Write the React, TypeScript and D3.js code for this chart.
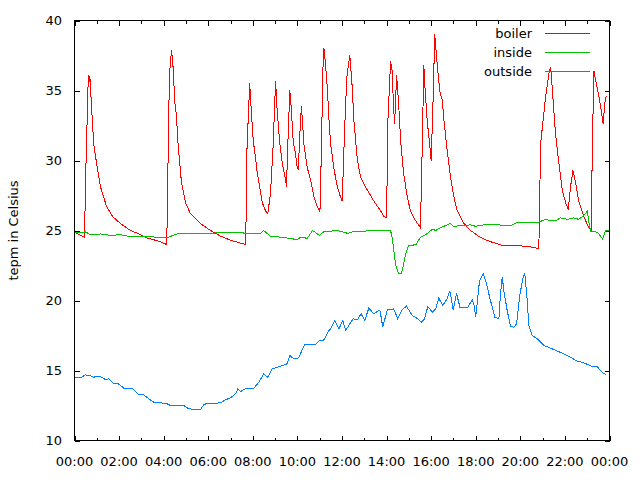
import * as d3 from 'd3'

// time in hours since midnight, temperature in °C
const boilerHours = [0.0, 0.45, 0.5, 0.55, 0.62, 0.66, 0.69, 0.78, 0.86, 0.99, 1.17, 1.44, 1.71, 2.06, 2.51, 2.83, 3.19, 3.64, 3.86, 4.13, 4.16, 4.19, 4.22, 4.26, 4.35, 4.4, 4.44, 4.49, 4.58, 4.62, 4.71, 4.8, 4.98, 5.2, 5.65, 6.1, 6.55, 7.0, 7.45, 7.67, 7.7, 7.74, 7.86, 7.93, 8.02, 8.12, 8.2, 8.31, 8.42, 8.57, 8.67, 8.79, 8.91, 8.97, 9.02, 9.09, 9.21, 9.32, 9.47, 9.51, 9.57, 9.66, 9.72, 9.81, 9.91, 9.99, 10.04, 10.11, 10.18, 10.29, 10.44, 10.59, 10.74, 10.89, 11.01, 11.08, 11.14, 11.19, 11.26, 11.34, 11.41, 11.49, 11.63, 11.79, 11.93, 12.01, 12.08, 12.16, 12.23, 12.35, 12.46, 12.53, 12.68, 12.83, 13.13, 13.43, 13.73, 13.88, 14.0, 14.06, 14.18, 14.25, 14.3, 14.36, 14.45, 14.55, 14.63, 14.77, 14.93, 15.07, 15.3, 15.52, 15.6, 15.67, 15.72, 15.82, 15.94, 16.0, 16.09, 16.16, 16.27, 16.39, 16.5, 16.57, 16.72, 16.87, 17.02, 17.17, 17.47, 17.77, 18.21, 18.66, 19.26, 20.01, 20.61, 20.83, 20.91, 21.13, 21.28, 21.36, 21.43, 21.58, 21.73, 21.88, 22.03, 22.15, 22.25, 22.36, 22.48, 22.62, 22.85, 23.07, 23.18, 23.23, 23.3, 23.45, 23.6, 23.72, 23.78, 23.85]
const boilerTemps = [24.9, 24.5, 28.8, 31.8, 36.1, 35.6, 36.0, 33.4, 31.2, 29.8, 28.1, 26.7, 26.0, 25.5, 25.0, 24.8, 24.5, 24.3, 24.2, 24.0, 25.7, 29.2, 32.6, 36.1, 37.9, 37.1, 36.3, 34.3, 33.1, 31.7, 30.0, 28.4, 27.0, 26.2, 25.5, 25.0, 24.6, 24.3, 24.1, 24.0, 26.0, 31.0, 35.5, 33.6, 31.4, 30.2, 29.1, 28.1, 27.0, 26.4, 26.2, 27.6, 31.0, 33.6, 35.7, 33.6, 31.2, 29.8, 28.6, 28.1, 31.2, 35.0, 33.8, 31.4, 30.5, 29.5, 29.4, 31.9, 33.9, 31.2, 29.5, 28.6, 27.4, 26.7, 26.3, 31.0, 36.4, 38.0, 36.9, 35.2, 33.1, 31.2, 29.5, 28.1, 27.4, 27.1, 30.5, 34.0, 36.2, 37.5, 35.2, 32.9, 30.2, 28.8, 27.9, 27.1, 26.4, 26.0, 25.9, 32.9, 37.1, 36.4, 34.3, 32.6, 36.1, 33.8, 31.4, 29.0, 27.4, 26.4, 25.7, 25.2, 31.0, 36.8, 35.3, 32.9, 31.0, 30.0, 34.5, 39.0, 36.9, 34.9, 34.3, 32.9, 30.7, 28.8, 27.4, 26.4, 25.5, 25.0, 24.5, 24.2, 23.9, 23.9, 23.8, 23.7, 31.2, 34.5, 36.2, 36.7, 35.2, 31.9, 29.8, 27.9, 27.0, 26.5, 28.1, 29.3, 28.4, 27.1, 26.0, 25.2, 25.0, 31.0, 36.4, 35.2, 33.9, 32.6, 34.0, 34.6]

const insideHours = [0.0, 0.22, 0.49, 0.72, 1.17, 1.62, 2.06, 2.38, 2.83, 3.28, 3.72, 4.17, 4.67, 5.65, 5.97, 6.42, 6.86, 7.45, 7.9, 8.34, 8.48, 8.79, 9.38, 10.0, 10.13, 10.45, 10.68, 10.99, 11.17, 11.8, 12.25, 12.6, 12.97, 13.15, 13.73, 14.18, 14.27, 14.4, 14.54, 14.67, 14.76, 14.85, 14.98, 15.34, 15.43, 15.52, 15.84, 16.06, 16.2, 16.42, 16.87, 17.0, 17.4, 17.77, 17.99, 18.35, 18.98, 19.56, 19.87, 20.77, 21.13, 21.36, 21.58, 21.8, 22.12, 22.39, 22.61, 22.84, 23.01, 23.07, 23.15, 23.37, 23.5, 23.69, 23.82, 23.96]
const insideTemps = [24.9, 24.85, 24.9, 24.7, 24.75, 24.65, 24.7, 24.6, 24.55, 24.6, 24.5, 24.5, 24.8, 24.8, 24.75, 24.85, 24.85, 24.85, 24.75, 24.8, 25.0, 24.6, 24.5, 24.35, 24.5, 24.45, 25.0, 24.65, 24.9, 25.0, 24.8, 24.95, 24.9, 25.0, 25.0, 25.0, 24.3, 22.6, 21.9, 21.9, 22.6, 23.3, 23.9, 24.0, 24.3, 24.5, 24.8, 25.1, 25.0, 25.2, 25.5, 25.3, 25.35, 25.4, 25.3, 25.4, 25.4, 25.35, 25.6, 25.55, 25.8, 25.7, 25.7, 25.9, 25.8, 25.9, 25.8, 26.05, 26.4, 25.6, 24.95, 24.9, 24.8, 24.4, 25.0, 25.0]

const outsideHours = [0.03, 0.31, 0.49, 0.72, 0.87, 1.03, 1.24, 1.39, 1.53, 1.76, 1.97, 2.21, 2.6, 2.88, 3.1, 3.33, 3.56, 3.86, 4.16, 4.31, 4.9, 5.13, 5.65, 5.8, 6.01, 6.55, 6.77, 7.0, 7.22, 7.33, 7.45, 7.67, 8.04, 8.27, 8.49, 8.67, 8.87, 9.24, 9.54, 9.66, 9.84, 10.05, 10.33, 10.81, 11.0, 11.17, 11.41, 11.49, 11.68, 11.86, 12.04, 12.16, 12.5, 12.68, 12.86, 13.02, 13.2, 13.43, 13.7, 13.83, 14.03, 14.32, 14.5, 14.7, 14.89, 15.15, 15.4, 15.57, 15.7, 15.85, 16.05, 16.2, 16.34, 16.52, 16.69, 16.84, 16.99, 17.14, 17.29, 17.64, 17.84, 17.92, 18.0, 18.06, 18.17, 18.34, 18.48, 18.66, 18.86, 19.04, 19.11, 19.19, 19.26, 19.41, 19.56, 19.71, 19.83, 19.98, 20.13, 20.2, 20.31, 20.38, 20.53, 20.76, 21.05, 21.5, 21.95, 22.25, 22.55, 22.85, 23.15, 23.45, 23.67, 23.82]
const outsideTemps = [14.52, 14.52, 14.69, 14.62, 14.52, 14.6, 14.52, 14.33, 14.4, 14.05, 14.05, 13.74, 13.7, 13.29, 13.27, 12.98, 12.74, 12.7, 12.62, 12.5, 12.5, 12.26, 12.19, 12.57, 12.67, 12.68, 12.9, 13.05, 13.33, 13.69, 13.5, 13.69, 13.73, 14.17, 14.76, 14.52, 15.12, 15.3, 15.48, 16.07, 15.83, 15.9, 16.86, 16.86, 17.14, 17.14, 17.86, 17.98, 18.57, 17.98, 18.57, 17.86, 18.69, 18.6, 19.05, 18.57, 19.45, 19.05, 19.33, 18.1, 19.33, 19.4, 18.69, 19.33, 19.6, 18.93, 18.69, 18.45, 18.69, 19.57, 19.17, 19.4, 20.17, 19.64, 20.05, 20.67, 19.33, 20.5, 19.52, 19.52, 20.05, 19.7, 18.81, 19.74, 21.43, 21.9, 21.19, 20.0, 18.81, 18.7, 20.5, 21.67, 20.7, 19.29, 18.14, 18.1, 18.33, 20.45, 21.67, 21.9, 20.0, 18.21, 17.5, 17.26, 16.79, 16.5, 16.19, 15.95, 15.67, 15.55, 15.33, 15.26, 14.88, 14.71]

const seriesNames = ['boiler', 'inside', 'outside']
const seriesColors = ['#ff0000', '#00c000', '#0080ff']

const yTicks = [10, 15, 20, 25, 30, 35, 40]
const xMajorTicks = [0, 2, 4, 6, 8, 10, 12, 14, 16, 18, 20, 22, 24]
const xTickLabels = ['00:00', '02:00', '04:00', '06:00', '08:00', '10:00', '12:00', '14:00', '16:00', '18:00', '20:00', '22:00', '00:00']
const xMinorTicks = [1, 3, 5, 7, 9, 11, 13, 15, 17, 19, 21, 23]

const W = 640
const H = 480
const left = 74.5
const right = 609.5
const top = 20.5
const bottom = 440.5
const font = '"DejaVu Sans", Arial, sans-serif'

export default function App() {
  const x = d3.scaleLinear().domain([0, 24]).range([left, right])
  const y = d3.scaleLinear().domain([10, 40]).range([bottom, top])

  const series = [
    boilerHours.map((h, i) => [h, boilerTemps[i]]),
    insideHours.map((h, i) => [h, insideTemps[i]]),
    outsideHours.map((h, i) => [h, outsideTemps[i]]),
  ]
  const line = d3.line<number[]>().x(d => x(d[0])).y(d => y(d[1]))

  return (
    <svg width={W} height={H} style={{ position: 'absolute', left: 0, top: 0, background: '#fff' }}>
      <rect x={0} y={0} width={W} height={H} fill="#fff" />
      {/* y ticks, mirrored on the right */}
      {yTicks.map(t => (
        <g key={'y' + t} shapeRendering="crispEdges" stroke="#000">
          <line x1={left} x2={left + 5} y1={Math.round(y(t)) + 0.5} y2={Math.round(y(t)) + 0.5} />
          <line x1={right} x2={right - 5} y1={Math.round(y(t)) + 0.5} y2={Math.round(y(t)) + 0.5} />
        </g>
      ))}
      {yTicks.map(t => (
        <text key={'yl' + t} x={62} y={y(t) + 4.5} textAnchor="end" fontFamily={font} fontSize={13} fill="#000">
          {t}
        </text>
      ))}
      {xMajorTicks.map(t => (
        <g key={'x' + t} shapeRendering="crispEdges" stroke="#000">
          <line x1={Math.round(x(t)) + 0.5} x2={Math.round(x(t)) + 0.5} y1={bottom} y2={bottom - 5} />
          <line x1={Math.round(x(t)) + 0.5} x2={Math.round(x(t)) + 0.5} y1={top} y2={top + 5} />
        </g>
      ))}
      {xMinorTicks.map(t => (
        <g key={'xm' + t} shapeRendering="crispEdges" stroke="#000">
          <line x1={Math.round(x(t)) + 0.5} x2={Math.round(x(t)) + 0.5} y1={bottom} y2={bottom - 3} />
          <line x1={Math.round(x(t)) + 0.5} x2={Math.round(x(t)) + 0.5} y1={top} y2={top + 3} />
        </g>
      ))}
      {xMajorTicks.map((t, i) => (
        <text key={'xl' + t} x={x(t)} y={466} textAnchor="middle" fontFamily={font} fontSize={13} fill="#000">
          {xTickLabels[i]}
        </text>
      ))}
      <text
        transform={`translate(18,${(top + bottom) / 2}) rotate(-90)`}
        textAnchor="middle"
        fontFamily={font}
        fontSize={13}
        fill="#000"
      >
        tepm in Celsius
      </text>

      {series.map((s, i) => (
        <path key={seriesNames[i]} d={line(s) ?? ''} fill="none" stroke={seriesColors[i]} strokeWidth={1} shapeRendering="crispEdges" />
      ))}

      {/* legend */}
      {seriesNames.map((n, i) => (
        <g key={'lg' + n}>
          <text x={532} y={37.5 + i * 19} textAnchor="end" fontFamily={font} fontSize={13} fill="#000">
            {n}
          </text>
          <line x1={545} x2={590} y1={33.5 + i * 19} y2={33.5 + i * 19} stroke={seriesColors[i]} shapeRendering="crispEdges" />
        </g>
      ))}

      <rect x={left} y={top} width={right - left} height={bottom - top} fill="none" stroke="#000" shapeRendering="crispEdges" />
    </svg>
  )
}
